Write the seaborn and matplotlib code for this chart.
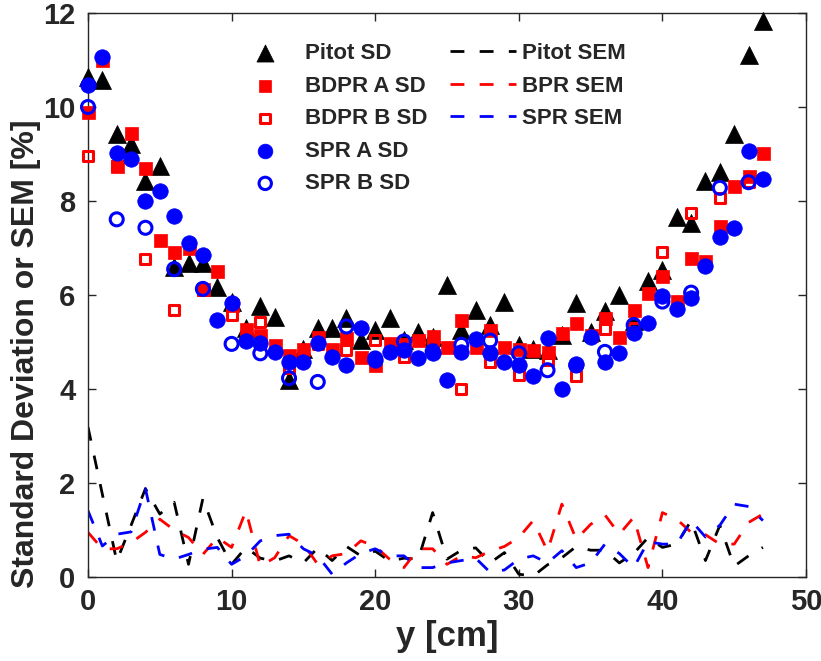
import matplotlib
matplotlib.use("Agg")
import matplotlib.pyplot as plt
import numpy as np
import pandas as pd
import seaborn as sns

# Measurement positions across the channel [cm]
positions = list(range(48))
positions_b = list(range(0, 48, 2))

# Standard deviation of each probe [%]
pitot_sd = [10.63, 10.58, 9.42, 9.21, 8.43, 8.75, 6.60, 6.68, 6.68, 6.17,
            5.85, 5.30, 5.76, 5.54, 4.19, 4.85, 5.29, 5.29, 5.51, 5.04,
            5.26, 5.51, 5.05, 5.22, 5.10, 6.22, 5.26, 5.68, 5.36, 5.86,
            4.94, 4.85, 4.83, 5.15, 5.84, 5.22, 5.67, 6.00, 5.44, 6.29,
            6.54, 7.67, 7.54, 8.43, 8.62, 9.42, 11.11, 11.82]
bdpr_a_sd = [9.90, 11.00, 8.75, 9.44, 8.71, 7.18, 6.91, 7.00, 6.13, 6.52,
             5.78, 5.27, 5.15, 4.94, 4.72, 4.86, 5.11, 4.86, 5.08, 4.69,
             4.51, 4.97, 4.95, 5.04, 5.12, 4.90, 5.47, 4.90, 5.26, 4.90,
             4.85, 4.83, 4.79, 5.19, 5.41, 5.15, 5.51, 5.11, 5.68, 6.04,
             6.40, 5.88, 6.79, 6.72, 7.46, 8.32, 8.53, 9.03]
bdpr_b_sd = [8.96, 8.75, 6.77, 5.68, 6.10, 5.58, 5.43, 4.45, 4.95, 4.83,
             5.04, 4.69, 5.00, 4.01, 4.58, 4.29, 4.62, 4.27, 5.27, 5.30,
             6.91, 7.75, 8.07, 8.40]
spr_a_sd = [10.47, 11.06, 9.03, 8.89, 8.00, 8.22, 7.69, 7.11, 6.86, 5.47,
            5.83, 5.03, 4.97, 4.79, 4.58, 4.58, 4.97, 4.69, 4.51, 5.29,
            4.62, 4.79, 4.83, 4.65, 4.76, 4.20, 4.79, 5.06, 4.76, 4.58,
            4.51, 4.27, 5.08, 4.01, 4.54, 5.11, 4.58, 4.77, 5.19, 5.41,
            5.97, 5.70, 5.93, 6.62, 7.24, 7.43, 9.07, 8.46]
spr_b_sd = [10.00, 7.61, 7.43, 6.55, 6.13, 4.96, 4.76, 4.23, 4.15, 5.33,
            4.65, 5.01, 4.80, 4.94, 5.03, 4.76, 4.40, 4.50, 4.79, 5.36,
            5.86, 6.05, 8.28, 8.40]

# Standard error of the mean [%]
pitot_sem = [3.19, 1.76, 0.34, 1.10, 1.88, 1.34, 1.59, 0.27, 1.67, 0.84,
             0.27, 0.63, 0.40, 0.34, 0.45, 0.30, 0.62, 0.35, 0.65, 0.45,
             0.55, 0.34, 0.40, 0.38, 1.37, 0.38, 0.57, 0.62, 0.30, 0.52,
             0.06, 0.02, 0.26, 0.41, 0.65, 0.57, 0.57, 0.30, 0.50, 0.84,
             0.63, 0.70, 1.20, 0.35, 1.10, 0.23, 0.45, 0.63]
bpr_sem = [0.95, 0.60, 0.60, 0.73, 0.95, 1.23, 1.00, 0.84, 0.48, 0.84,
           0.63, 1.41, 0.23, 0.41, 0.88, 0.70, 0.27, 0.45, 0.50, 0.77,
           0.65, 0.38, 0.20, 0.60, 0.60, 0.27, 0.45, 0.41, 0.55, 0.65,
           0.84, 1.20, 0.55, 1.55, 0.80, 1.12, 1.32, 0.91, 1.27, 0.20,
           1.37, 1.23, 0.95, 0.90, 0.70, 0.70, 1.16, 1.34]
spr_sem = [1.41, 0.66, 0.91, 0.96, 1.88, 0.48, 0.38, 0.48, 0.59, 0.63,
           0.27, 0.45, 0.77, 0.88, 0.91, 0.60, 0.45, 0.06, 0.30, 0.50,
           0.60, 0.45, 0.45, 0.20, 0.20, 0.30, 0.35, 0.40, 0.10, 0.15,
           0.38, 0.45, 0.30, 0.56, 0.20, 0.30, 0.70, 0.50, 0.20, 0.75,
           0.70, 0.70, 1.20, 0.85, 1.10, 1.55, 1.50, 1.20]

x_ticks = [0, 10, 20, 30, 40, 50]
y_ticks = [0, 2, 4, 6, 8, 10, 12]

sns.set_theme(style="ticks")
plt.rcParams["font.family"] = ["Liberation Sans", "DejaVu Sans"]
plt.rcParams["font.weight"] = "bold"
plt.rcParams["axes.labelweight"] = "bold"

fig = plt.figure(figsize=(8.21, 6.61), dpi=100)
ax = fig.add_axes([88 / 821, 84 / 661, 718 / 821, 564 / 661])

W, H = 821, 661
px = 72 / 100  # points per pixel

sd_df = pd.DataFrame({"y": positions, "pitot": pitot_sd, "bdpr_a": bdpr_a_sd,
                      "spr_a": spr_a_sd})
b_df = pd.DataFrame({"y": positions_b, "bdpr_b": bdpr_b_sd, "spr_b": spr_b_sd})
sem_df = pd.DataFrame({"y": positions, "pitot": pitot_sem, "bpr": bpr_sem,
                       "spr": spr_sem})

sns.scatterplot(data=sd_df, x="y", y="pitot", marker="^", s=(18 * px) ** 2,
                color="black", edgecolor="black", linewidth=0.5,
                label="Pitot SD", ax=ax, zorder=3, clip_on=False)
sns.scatterplot(data=sd_df, x="y", y="bdpr_a", marker="s", s=(13 * px) ** 2,
                color="red", edgecolor="red", linewidth=0.5,
                label="BDPR A SD", ax=ax, zorder=3, clip_on=False)
sns.scatterplot(data=b_df, x="y", y="bdpr_b", marker="s", s=(10 * px) ** 2,
                facecolor="none", edgecolor="red", linewidth=2.2,
                label="BDPR B SD", ax=ax, zorder=3, clip_on=False)
sns.scatterplot(data=sd_df, x="y", y="spr_a", marker="o", s=(15.5 * px) ** 2,
                color="blue", edgecolor="blue", linewidth=0.5,
                label="SPR A SD", ax=ax, zorder=3, clip_on=False)
sns.scatterplot(data=b_df, x="y", y="spr_b", marker="o", s=(13 * px) ** 2,
                facecolor="none", edgecolor="blue", linewidth=2.2,
                label="SPR B SD", ax=ax, zorder=3, clip_on=False)

dash = (0, (5.0, 5.5))
sns.lineplot(data=sem_df, x="y", y="pitot", color="black", linewidth=2.0,
             linestyle=dash, label="Pitot SEM", ax=ax)
sns.lineplot(data=sem_df, x="y", y="bpr", color="red", linewidth=2.0,
             linestyle=dash, label="BPR SEM", ax=ax)
sns.lineplot(data=sem_df, x="y", y="spr", color="blue", linewidth=2.0,
             linestyle=dash, label="SPR SEM", ax=ax)

ax.set_xlim(0, 50)
ax.set_ylim(0, 12)
ax.set_xticks(x_ticks)
ax.set_yticks(y_ticks)
ax.set_xticklabels([str(t) for t in x_ticks], fontsize=21, fontweight="bold")
ax.set_yticklabels([str(t) for t in y_ticks], fontsize=21, fontweight="bold")
ax.tick_params(axis="both", direction="in", length=6, width=1, top=True,
               right=True, colors="#262626", labelcolor="#262626")
ax.tick_params(axis="x", pad=8)
ax.tick_params(axis="y", pad=9)
for sp in ax.spines.values():
    sp.set_color("#262626")
    sp.set_linewidth(1.0)
    sp.set_visible(True)

ax.set_xlabel("y [cm]", fontsize=25, fontweight="bold", color="#262626",
              labelpad=3)
ax.set_ylabel("Standard Deviation or SEM [%]", fontsize=23, fontweight="bold",
              color="#262626")
ax.yaxis.set_label_coords(-0.066, (577 - 354) / 564)

handles, labels = ax.get_legend_handles_labels()
leg1 = ax.legend(handles[:5], labels[:5], loc="upper left",
                 bbox_to_anchor=(243 / W, 1 - 43 / H),
                 bbox_transform=fig.transFigure, frameon=False,
                 prop={"weight": "bold", "size": 16}, borderpad=0,
                 borderaxespad=0, handlelength=2.0, handletextpad=0.8,
                 labelspacing=0.52, markerscale=0.95)
ax.add_artist(leg1)
ax.legend(handles[5:], labels[5:], loc="upper left",
          bbox_to_anchor=(450 / W, 1 - 43 / H),
          bbox_transform=fig.transFigure, frameon=False,
          prop={"weight": "bold", "size": 16}, borderpad=0, borderaxespad=0,
          handlelength=2.95, handletextpad=0.3, labelspacing=0.52)

fig.savefig("out.png", dpi=100)
